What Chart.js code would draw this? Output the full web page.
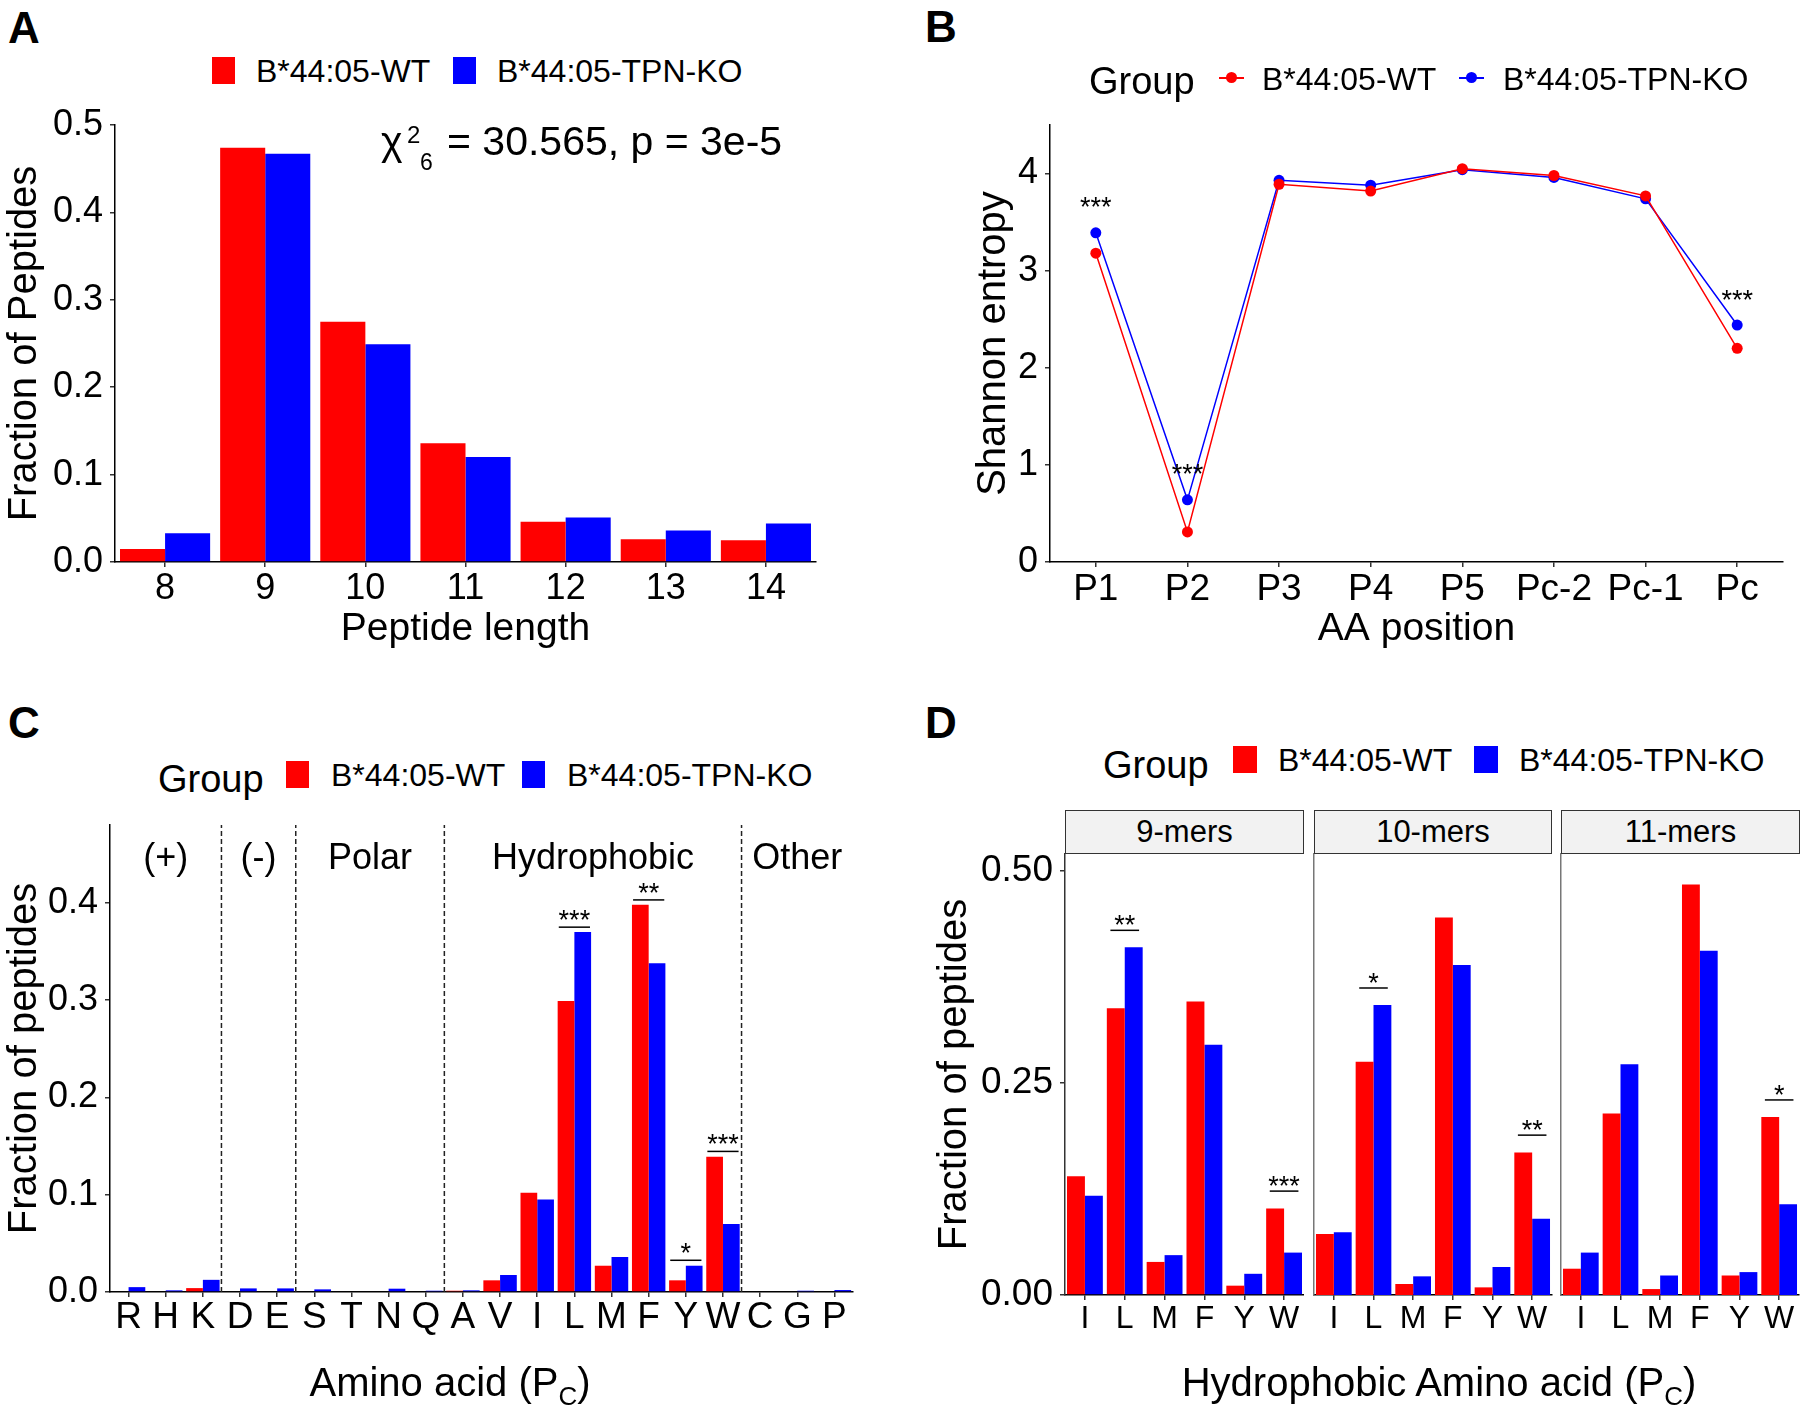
<!DOCTYPE html>
<html lang="en">
<head>
<meta charset="UTF-8" />
<title>HLA-B*44:05 peptides: WT vs TPN-KO</title>
<script src="https://cdn.jsdelivr.net/npm/chart.js@4.4.1/dist/chart.umd.min.js"></script>
<style>
  body { margin: 0; background: #fff; }
  #fig { position: relative; width: 1800px; height: 1415px; overflow: hidden;
         font-family: 'Liberation Sans', Arial, Helvetica, sans-serif; color: #000; }
  #fig canvas { position: absolute; }
  .t { position: absolute; white-space: nowrap; line-height: 1; transform: translateY(-50%); }
  .c { transform: translate(-50%, -50%); }
  .tag { font-size: 44px; font-weight: bold; }
  .leg { font-size: 32px; }
  .grp { font-size: 38px; }
  .key { position: absolute; width: 23px; height: 27px; }
  .red { background: #ff0000; }
  .blue { background: #0000ff; }
  .mk { position: absolute; }
  .strip { position: absolute; top: 810px; height: 44px; box-sizing: border-box; border: 1.5px solid #333;
           background: #f2f2f2; font-size: 31px; line-height: 41px; text-align: center; }
  .xt { font-size: 40px; }
  .xt sub { font-size: 26px; vertical-align: -9px; line-height: 0; }
</style>
</head>
<body>
<div id="fig">
  <canvas id="chartA"></canvas>
  <canvas id="chartB"></canvas>
  <canvas id="chartC"></canvas>
  <canvas id="chartD1"></canvas>
  <canvas id="chartD2"></canvas>
  <canvas id="chartD3"></canvas>

  <!-- panel tags -->
  <div class="t tag c" style="left:24px; top:28px">A</div>
  <div class="t tag c" style="left:941px; top:27px">B</div>
  <div class="t tag c" style="left:24px; top:723px">C</div>
  <div class="t tag c" style="left:941px; top:723px">D</div>

  <!-- legend A -->
  <div class="key red" style="left:212px; top:57px"></div>
  <div class="t leg" style="left:256px; top:71px">B*44:05-WT</div>
  <div class="key blue" style="left:453px; top:57px"></div>
  <div class="t leg" style="left:497px; top:71px">B*44:05-TPN-KO</div>

  <!-- chi-square note, panel A -->
  <div class="t" style="left:381px; top:141px; font-size:41px">χ</div>
  <div class="t" style="left:407px; top:135px; font-size:24px">2</div>
  <div class="t" style="left:420px; top:162px; font-size:23px">6</div>
  <div class="t" style="left:447px; top:141px; font-size:41px">= 30.565, p = 3e-5</div>

  <!-- legend B -->
  <div class="t grp" style="left:1089px; top:81px">Group</div>
  <div class="mk red" style="left:1219px; top:77px; width:25px; height:2px"></div>
  <div class="mk red" style="left:1226px; top:72px; width:11px; height:11px; border-radius:50%"></div>
  <div class="t leg" style="left:1262px; top:79px">B*44:05-WT</div>
  <div class="mk blue" style="left:1459px; top:77px; width:25px; height:2px"></div>
  <div class="mk blue" style="left:1466px; top:72px; width:11px; height:11px; border-radius:50%"></div>
  <div class="t leg" style="left:1503px; top:79px">B*44:05-TPN-KO</div>

  <!-- legend C -->
  <div class="t grp" style="left:158px; top:779px">Group</div>
  <div class="key red" style="left:286px; top:761px"></div>
  <div class="t leg" style="left:331px; top:775px">B*44:05-WT</div>
  <div class="key blue" style="left:522px; top:761px"></div>
  <div class="t leg" style="left:567px; top:775px">B*44:05-TPN-KO</div>
  <div class="t xt c" style="left:450px; top:1382px">Amino acid (P<sub>C</sub>)</div>

  <!-- legend D -->
  <div class="t grp" style="left:1103px; top:765px">Group</div>
  <div class="key red" style="left:1233px; top:746px; width:24px"></div>
  <div class="t leg" style="left:1278px; top:760px">B*44:05-WT</div>
  <div class="key blue" style="left:1474px; top:746px; width:24px"></div>
  <div class="t leg" style="left:1519px; top:760px">B*44:05-TPN-KO</div>
  <div class="strip" style="left:1065px; width:239px">9-mers</div>
  <div class="strip" style="left:1314px; width:238px">10-mers</div>
  <div class="strip" style="left:1561px; width:239px">11-mers</div>
  <div class="t xt c" style="left:1439px; top:1382px">Hydrophobic Amino acid (P<sub>C</sub>)</div>
</div>

<script>
  Chart.defaults.font.family = "'Liberation Sans', Arial, Helvetica, sans-serif"
  Chart.defaults.color = '#000'
  Chart.defaults.animation = false
  Chart.defaults.plugins.legend.display = false
  Chart.defaults.plugins.tooltip.enabled = false

  const RED = '#ff0000'
  const BLUE = '#0000ff'
  const groups = ['B*44:05-WT', 'B*44:05-TPN-KO']

  // A: peptide length distribution
  const lengths = ['8', '9', '10', '11', '12', '13', '14']
  const lenWT = [0.015, 0.474, 0.275, 0.136, 0.046, 0.026, 0.025]
  const lenKO = [0.033, 0.467, 0.249, 0.120, 0.051, 0.036, 0.044]

  // B: Shannon entropy per position
  const positions = ['P1', 'P2', 'P3', 'P4', 'P5', 'Pc-2', 'Pc-1', 'Pc']
  const entWT = [3.18, 0.31, 3.89, 3.82, 4.05, 3.98, 3.77, 2.20]
  const entKO = [3.39, 0.64, 3.93, 3.88, 4.04, 3.96, 3.74, 2.44]
  const entStars = [
    { at: 'P1', y: 3.68, text: '***' },
    { at: 'P2', y: 0.93, text: '***' },
    { at: 'Pc', y: 2.72, text: '***' }
  ]

  // C: C-terminal amino acid usage
  const aminoAcids = ['R', 'H', 'K', 'D', 'E', 'S', 'T', 'N', 'Q', 'A', 'V', 'I', 'L', 'M', 'F', 'Y', 'W', 'C', 'G', 'P']
  const aaWT = [0, 0, 0.004, 0, 0, 0, 0, 0, 0, 0.0013, 0.012, 0.102, 0.299, 0.027, 0.398, 0.012, 0.139, 0, 0, 0]
  const aaKO = [0.005, 0.0017, 0.0125, 0.0037, 0.0037, 0.0027, 0, 0.0034, 0.0013, 0.0017, 0.0175, 0.095, 0.370, 0.036, 0.338, 0.027, 0.070, 0, 0.0013, 0.002]
  const aaClasses = [
    { label: '(+)', from: 'R', to: 'K' },
    { label: '(-)', from: 'D', to: 'E' },
    { label: 'Polar', from: 'S', to: 'Q' },
    { label: 'Hydrophobic', from: 'A', to: 'W' },
    { label: 'Other', from: 'C', to: 'P' }
  ]
  const aaClassY = 0.445
  const aaSig = [
    { at: 'L', y: 0.375, text: '***' },
    { at: 'F', y: 0.403, text: '**' },
    { at: 'Y', y: 0.0326, text: '*' },
    { at: 'W', y: 0.1445, text: '***' }
  ]

  // D: hydrophobic Pc residues split by peptide length
  const hydro = ['I', 'L', 'M', 'F', 'Y', 'W']
  const mer9WT = [0.140, 0.338, 0.039, 0.346, 0.011, 0.102]
  const mer9KO = [0.117, 0.410, 0.047, 0.295, 0.025, 0.050]
  const mer9Sig = [{ at: 'L', y: 0.430, text: '**' }, { at: 'W', y: 0.1225, text: '***' }]
  const mer10WT = [0.072, 0.275, 0.013, 0.445, 0.009, 0.168]
  const mer10KO = [0.074, 0.342, 0.022, 0.389, 0.033, 0.090]
  const mer10Sig = [{ at: 'L', y: 0.362, text: '*' }, { at: 'W', y: 0.1885, text: '**' }]
  const mer11WT = [0.031, 0.214, 0.007, 0.484, 0.023, 0.210]
  const mer11KO = [0.050, 0.272, 0.023, 0.406, 0.027, 0.107]
  const mer11Sig = [{ at: 'W', y: 0.230, text: '*' }]

  // put a canvas on the page and pin its plot area to a fixed rectangle
  function frame(id, box, plot) {
    const cv = document.getElementById(id)
    cv.width = box.w
    cv.height = box.h
    cv.style.left = box.x + 'px'
    cv.style.top = box.y + 'px'
    return {
      ctx: cv.getContext('2d'),
      padding: { top: plot.y0 - box.y, right: box.x + box.w - plot.x1, bottom: 0, left: 0 },
      fitX: s => { s.height = box.y + box.h - plot.y1 },
      fitY: s => { s.width = plot.x0 - box.x }
    }
  }

  const tickGrid = { offset: false, drawOnChartArea: false, tickLength: 5, tickColor: '#333', lineWidth: 1.5 }

  function xAxis(f, size, pad, title, pb) {
    return {
      type: 'category',
      offset: true,
      afterFit: f.fitX,
      grid: tickGrid,
      border: { color: '#000', width: 1.5 },
      ticks: { autoSkip: false, maxRotation: 0, padding: pad, font: { size: size, lineHeight: 1 } },
      title: title
        ? { display: true, text: title, font: { size: 39, lineHeight: 1 }, padding: { top: 0, bottom: pb } }
        : { display: false }
    }
  }

  function yAxis(f, max, step, digits, title, pt, size) {
    return {
      min: 0,
      max: max,
      bounds: 'data',
      afterFit: f.fitY,
      // keep only whole steps (drop the axis limit itself)
      afterBuildTicks: s => {
        s.ticks = s.ticks.filter(t => Math.abs(t.value / step - Math.round(t.value / step)) < 1e-6)
      },
      grid: tickGrid,
      border: { color: '#000', width: 1.5 },
      ticks: {
        stepSize: step,
        includeBounds: false,
        padding: 7,
        font: { size: size || 36, lineHeight: 1 },
        callback: v => Number(v).toFixed(digits)
      },
      title: { display: true, text: title, font: { size: 40, lineHeight: 1 }, padding: { top: pt, bottom: 0 } }
    }
  }

  function bars(wt, ko) {
    const base = { borderWidth: 0, barPercentage: 1, categoryPercentage: 0.9 }
    return [
      Object.assign({ label: groups[0], data: wt, backgroundColor: RED }, base),
      Object.assign({ label: groups[1], data: ko, backgroundColor: BLUE }, base)
    ]
  }

  // dashed class dividers, class names, significance bars and stars
  function marks(cfg) {
    return {
      id: 'marks',
      afterDatasetsDraw(chart) {
        const { ctx, chartArea: area } = chart
        const x = chart.scales.x
        const y = chart.scales.y
        const labels = chart.data.labels
        const step = x.getPixelForValue(1) - x.getPixelForValue(0)
        ctx.save()
        ctx.fillStyle = '#000'
        ctx.strokeStyle = '#000'

        if (cfg.classes) {
          ctx.lineWidth = 1.5
          ctx.strokeStyle = '#222'
          ctx.setLineDash([5, 3])
          cfg.classes.slice(0, -1).forEach(c => {
            const px = x.getPixelForValue(labels.indexOf(c.to)) + step / 2
            ctx.beginPath()
            ctx.moveTo(px, area.bottom)
            ctx.lineTo(px, area.top)
            ctx.stroke()
          })
          ctx.setLineDash([])
          ctx.font = "36px 'Liberation Sans', Arial, sans-serif"
          ctx.textAlign = 'center'
          ctx.textBaseline = 'middle'
          cfg.classes.forEach(c => {
            const px = (x.getPixelForValue(labels.indexOf(c.from)) + x.getPixelForValue(labels.indexOf(c.to))) / 2
            ctx.fillText(c.label, px, y.getPixelForValue(cfg.classY))
          })
        }

        ctx.textAlign = 'center'
        ctx.textBaseline = 'alphabetic'
        ctx.font = "27px 'Liberation Sans', Arial, sans-serif"
        ctx.strokeStyle = '#000'
        ctx.lineWidth = 1.5
        ;(cfg.sig || []).forEach(s => {
          const cx = x.getPixelForValue(labels.indexOf(s.at))
          const py = y.getPixelForValue(s.y)
          const half = step * cfg.bracket
          ctx.beginPath()
          ctx.moveTo(cx - half, py)
          ctx.lineTo(cx + half, py)
          ctx.stroke()
          ctx.fillText(s.text, cx, py + cfg.lift)
        })
        ;(cfg.stars || []).forEach(s => {
          const cx = x.getPixelForValue(labels.indexOf(s.at))
          ctx.fillText(s.text, cx, y.getPixelForValue(s.y) + 11)
        })
        ctx.restore()
      }
    }
  }

  // ---- A ----
  const fA = frame('chartA', { x: 0, y: 100, w: 840, h: 570 }, { x0: 115, y0: 119, x1: 816, y1: 562 })
  new Chart(fA.ctx, {
    type: 'bar',
    data: { labels: lengths, datasets: bars(lenWT, lenKO) },
    options: {
      responsive: false,
      layout: { padding: fA.padding },
      scales: {
        x: xAxis(fA, 36, 4, 'Peptide length', 21),
        y: yAxis(fA, 0.5, 0.1, 1, 'Fraction of Peptides', 5)
      }
    }
  })

  // ---- B ----
  const fB = frame('chartB', { x: 930, y: 100, w: 870, h: 570 }, { x0: 1050, y0: 124, x1: 1783, y1: 562 })
  const lineStyle = { borderWidth: 1.5, pointRadius: 5.5, pointHoverRadius: 5.5, pointBorderWidth: 0, tension: 0 }
  new Chart(fB.ctx, {
    type: 'line',
    data: {
      labels: positions,
      datasets: [
        Object.assign({ label: groups[0], data: entWT, borderColor: RED, backgroundColor: RED }, lineStyle),
        Object.assign({ label: groups[1], data: entKO, borderColor: BLUE, backgroundColor: BLUE }, lineStyle)
      ]
    },
    options: {
      responsive: false,
      layout: { padding: fB.padding },
      scales: {
        x: xAxis(fB, 37, 4, 'AA position', 21),
        y: yAxis(fB, 4.5, 1, 0, 'Shannon entropy', 44)
      }
    },
    plugins: [marks({ stars: entStars })]
  })

  // ---- C ----
  const fC = frame('chartC', { x: 0, y: 800, w: 880, h: 615 }, { x0: 110, y0: 822, x1: 853, y1: 1292 })
  new Chart(fC.ctx, {
    type: 'bar',
    data: { labels: aminoAcids, datasets: bars(aaWT, aaKO) },
    options: {
      responsive: false,
      layout: { padding: fC.padding },
      scales: {
        x: xAxis(fC, 37, 2),
        y: yAxis(fC, 0.48, 0.1, 1, 'Fraction of peptides', 5)
      }
    },
    plugins: [marks({ classes: aaClasses, classY: aaClassY, sig: aaSig, bracket: 0.42, lift: 2 })]
  })

  // ---- D (three facets sharing one y scale) ----
  const facets = [
    { id: 'chartD1', wt: mer9WT, ko: mer9KO, sig: mer9Sig, box: { x: 930, y: 800, w: 374, h: 615 }, plot: { x0: 1065, y0: 854, x1: 1304, y1: 1295 } },
    { id: 'chartD2', wt: mer10WT, ko: mer10KO, sig: mer10Sig, box: { x: 1304, y: 800, w: 250, h: 615 }, plot: { x0: 1314, y0: 854, x1: 1552, y1: 1295 } },
    { id: 'chartD3', wt: mer11WT, ko: mer11KO, sig: mer11Sig, box: { x: 1552, y: 800, w: 248, h: 615 }, plot: { x0: 1561, y0: 854, x1: 1799, y1: 1295 } }
  ]
  facets.forEach((p, i) => {
    const f = frame(p.id, p.box, p.plot)
    let y
    if (i === 0) {
      y = yAxis(f, 0.52, 0.25, 2, 'Fraction of peptides', 5, 37)
      y.border.color = '#333'
    } else {
      y = {
        min: 0, max: 0.52, bounds: 'data', afterFit: f.fitY,
        grid: { display: false },
        border: { color: '#777', width: 1.5 },
        ticks: { display: false }
      }
    }
    new Chart(f.ctx, {
      type: 'bar',
      data: { labels: hydro, datasets: bars(p.wt, p.ko) },
      options: {
        responsive: false,
        layout: { padding: f.padding },
        scales: { x: xAxis(f, 32, 3), y: y }
      },
      plugins: [marks({ sig: p.sig, bracket: 0.36, lift: 4 })]
    })
  })
</script>
</body>
</html>
